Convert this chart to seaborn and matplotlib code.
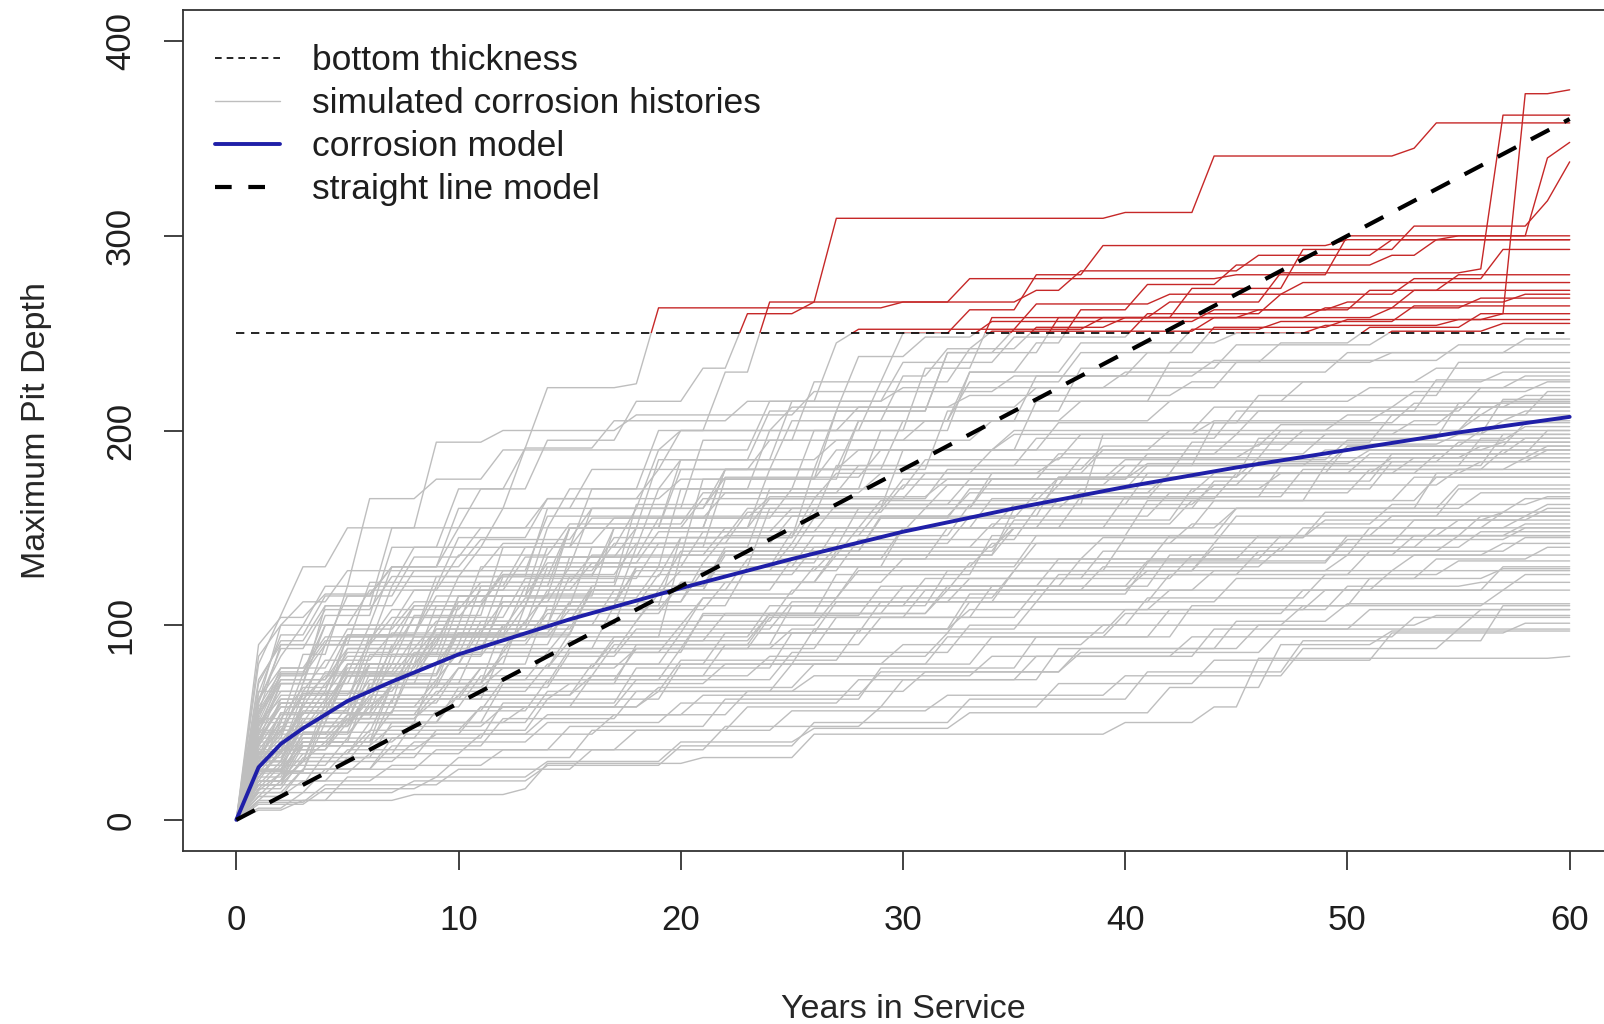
import matplotlib
matplotlib.use("Agg")
import matplotlib.pyplot as plt
from matplotlib.lines import Line2D
from matplotlib.patches import Rectangle
import pandas as pd
import seaborn as sns

# corrosion model curve (years, depth)
MODEL_YEARS = [0, 1, 2, 3, 4, 5, 7, 10, 15, 20, 25, 30, 35, 40, 45, 50, 55, 60]
MODEL_DEPTH = [0, 27, 39, 47, 54, 61, 71, 85, 103, 119, 134, 148, 160, 171, 181, 190, 199, 207]

# straight line model
STRAIGHT_YEARS = [0, 60]
STRAIGHT_DEPTH = [0, 360]

# bottom thickness
BOTTOM_YEARS = [0, 60]
BOTTOM_THICKNESS = 250

# simulated histories as (year, depth reached) jumps
HIGH_HISTORIES = [
    [(1, 60), (2, 100), (4, 120), (6, 165), (9, 175), (12, 190), (20, 200), (28, 212), (36, 222), (45, 235), (52, 240), (58, 247)],
    [(1, 80), (2, 105), (3, 130), (5, 150), (9, 194), (12, 200), (18, 208), (26, 220), (35, 228), (44, 236), (55, 244)],
    [(1, 45), (2, 70), (4, 110), (7, 150), (11, 170), (13, 191), (17, 205), (23, 215), (30, 222), (40, 230), (50, 240)],
    [(1, 50), (3, 85), (5, 120), (8, 140), (12, 160), (16, 180), (20, 200), (25, 212), (33, 218), (43, 225), (54, 232)],
    [(1, 40), (2, 60), (4, 90), (7, 120), (10, 145), (14, 165), (19, 180), (24, 195), (31, 205), (38, 215), (48, 225), (57, 230)],
    [(1, 55), (2, 90), (5, 115), (8, 135), (11, 150), (15, 170), (20, 185), (27, 195), (34, 205), (42, 215), (51, 222), (58, 228)],
    [(1, 35), (3, 60), (6, 95), (9, 120), (13, 140), (18, 160), (22, 180), (28, 190), (35, 200), (44, 212), (53, 220), (59, 225)],
    [(1, 30), (2, 55), (5, 80), (9, 110), (14, 135), (19, 155), (25, 170), (31, 185), (38, 198), (46, 210), (56, 222)],
    [(1, 65), (2, 95), (4, 115), (7, 130), (10, 150), (14, 165), (20, 175), (27, 190), (35, 198), (44, 205), (52, 212), (58, 218)],
    [(1, 45), (3, 75), (6, 100), (10, 125), (15, 150), (21, 165), (27, 178), (34, 190), (42, 200), (50, 208), (57, 215)],
    [(1, 28), (3, 50), (6, 75), (10, 100), (15, 125), (20, 145), (26, 165), (32, 180), (39, 192), (47, 203), (55, 212)],
    [(1, 38), (2, 62), (5, 88), (8, 110), (12, 128), (17, 145), (23, 160), (30, 175), (37, 188), (45, 198), (53, 205), (58, 210)],
    [(1, 50), (2, 75), (4, 100), (8, 118), (13, 135), (18, 150), (24, 165), (31, 178), (39, 190), (48, 200), (56, 208)],
    [(1, 22), (3, 45), (7, 70), (11, 95), (16, 120), (22, 140), (28, 160), (34, 175), (41, 188), (49, 198), (57, 205)],
    [(1, 42), (3, 70), (6, 92), (10, 112), (15, 130), (21, 148), (27, 162), (33, 175), (40, 185), (50, 195), (58, 202)],
    [(1, 33), (2, 55), (5, 78), (9, 98), (14, 118), (20, 138), (26, 155), (33, 170), (41, 182), (50, 192), (56, 200)],
    [(1, 60), (2, 88), (4, 108), (7, 125), (11, 140), (16, 155), (22, 168), (29, 178), (37, 186), (46, 193), (55, 198)],
    [(1, 26), (3, 48), (6, 68), (10, 90), (15, 112), (21, 132), (27, 150), (34, 165), (42, 178), (51, 188), (58, 196)],
    [(1, 48), (2, 72), (5, 95), (9, 115), (14, 132), (19, 148), (25, 160), (32, 172), (40, 182), (49, 190), (57, 194)],
    [(1, 36), (3, 58), (6, 80), (11, 102), (16, 120), (22, 138), (29, 155), (36, 168), (44, 178), (53, 186), (59, 192)],
    [(1, 70), (2, 92), (4, 110), (8, 128), (12, 142), (17, 155), (24, 166), (32, 175), (41, 183), (51, 190)],
    [(1, 18), (3, 38), (7, 62), (12, 88), (17, 110), (23, 130), (30, 150), (37, 165), (45, 178), (54, 188)],
    [(1, 52), (2, 78), (5, 98), (8, 112), (12, 126), (18, 142), (25, 156), (33, 168), (42, 178), (52, 186)],
    [(1, 44), (3, 66), (7, 88), (12, 110), (18, 130), (25, 148), (31, 160), (38, 170), (47, 178), (56, 184)],
    [(1, 30), (2, 52), (5, 74), (10, 96), (16, 118), (22, 136), (28, 150), (35, 162), (44, 172), (55, 180)],
]

MID_HISTORIES = [
    [(1, 40), (2, 58), (4, 76), (8, 94), (13, 110), (19, 126), (26, 140), (34, 152), (43, 164), (53, 176)],
    [(1, 24), (3, 42), (6, 60), (10, 78), (15, 96), (21, 114), (28, 130), (36, 146), (45, 160), (55, 172)],
    [(1, 55), (2, 72), (5, 88), (9, 102), (14, 116), (20, 128), (27, 140), (35, 150), (45, 160), (56, 168)],
    [(1, 16), (3, 32), (7, 50), (12, 70), (18, 90), (25, 110), (32, 128), (40, 145), (49, 158), (58, 165)],
    [(1, 34), (3, 52), (7, 70), (12, 86), (18, 102), (25, 118), (33, 132), (42, 146), (52, 156), (59, 162)],
    [(1, 46), (2, 64), (5, 80), (9, 94), (15, 108), (22, 122), (30, 134), (39, 145), (49, 154), (57, 158)],
    [(1, 20), (2, 36), (5, 54), (9, 70), (15, 88), (21, 105), (29, 120), (37, 134), (46, 146), (55, 154)],
    [(1, 28), (3, 44), (6, 58), (11, 74), (17, 90), (24, 106), (32, 120), (41, 133), (50, 144), (58, 150)],
    [(1, 38), (3, 55), (7, 70), (12, 84), (18, 98), (25, 112), (33, 124), (43, 136), (53, 146)],
    [(1, 12), (3, 26), (7, 42), (12, 60), (18, 78), (25, 96), (33, 112), (42, 126), (51, 138), (58, 145)],
    [(1, 32), (2, 48), (6, 64), (11, 78), (17, 92), (24, 106), (32, 118), (41, 128), (50, 136), (57, 142)],
    [(1, 18), (4, 34), (8, 50), (14, 66), (20, 82), (28, 98), (36, 112), (45, 124), (54, 134), (59, 140)],
]

LOW_HISTORIES = [
    [(1, 5), (3, 10), (8, 13), (13, 16), (14, 29), (21, 32), (26, 44), (40, 50), (44, 58), (46, 83), (60, 84)],
    [(1, 8), (4, 16), (9, 22), (14, 30), (20, 40), (26, 47), (33, 55), (42, 68), (47, 90), (52, 97)],
    [(1, 12), (3, 20), (7, 28), (12, 36), (18, 46), (25, 56), (32, 64), (40, 74), (48, 88), (55, 98)],
    [(1, 15), (2, 24), (6, 34), (11, 44), (17, 54), (23, 66), (31, 76), (38, 88), (46, 100), (54, 105)],
    [(1, 20), (3, 30), (8, 40), (14, 50), (20, 60), (28, 72), (36, 84), (44, 98), (51, 108)],
    [(1, 10), (5, 22), (10, 32), (16, 46), (23, 58), (30, 72), (37, 88), (45, 102), (50, 111)],
    [(1, 25), (3, 38), (7, 48), (12, 58), (19, 68), (26, 80), (34, 94), (42, 108), (50, 120), (56, 122)],
    [(1, 14), (4, 26), (9, 36), (15, 48), (22, 62), (29, 78), (36, 94), (43, 110), (51, 124), (57, 129)],
    [(1, 22), (2, 34), (6, 46), (11, 58), (18, 72), (25, 86), (33, 100), (41, 114), (49, 126), (55, 133)],
    [(1, 6), (3, 14), (8, 20), (14, 28), (20, 38), (26, 50), (33, 62), (41, 76), (48, 92), (57, 110)],
    [(1, 30), (2, 42), (5, 54), (10, 64), (16, 74), (24, 84), (32, 96), (40, 108), (49, 118), (58, 126)],
    [(1, 9), (4, 18), (10, 26), (16, 36), (22, 48), (29, 58), (37, 70), (44, 82), (52, 96), (58, 101)],
    [(1, 18), (2, 30), (4, 40), (8, 50), (13, 58), (19, 66), (26, 74), (34, 84), (43, 94), (53, 104)],
    [(1, 26), (2, 40), (5, 52), (9, 62), (15, 70), (22, 80), (30, 90), (39, 100), (48, 110), (57, 118)],
    [(1, 12), (2, 24), (5, 36), (9, 44), (14, 54), (21, 64), (29, 76), (38, 86), (47, 98), (56, 108)],
    [(1, 34), (2, 46), (4, 58), (7, 68), (12, 78), (18, 88), (25, 98), (33, 108), (42, 118), (52, 128)],
]

EXTRA_HISTORIES = [
    [(1, 62), (2, 84), (3, 100), (6, 118), (10, 136), (15, 152), (21, 168), (28, 182), (36, 196), (45, 210), (54, 226)],
    [(1, 28), (2, 46), (4, 62), (7, 80), (11, 98), (16, 118), (22, 138), (29, 156), (37, 176), (46, 196), (55, 214)],
    [(1, 52), (3, 68), (5, 86), (8, 104), (13, 124), (19, 142), (26, 160), (34, 178), (43, 194), (52, 208), (59, 220)],
    [(1, 36), (2, 50), (4, 66), (8, 84), (12, 100), (17, 118), (23, 134), (30, 150), (38, 166), (47, 182), (56, 196)],
    [(1, 84), (2, 100), (3, 112), (5, 128), (14, 156), (27, 182), (44, 204), (53, 214)],
    [(1, 20), (3, 34), (6, 50), (10, 68), (15, 86), (21, 106), (27, 126), (34, 146), (41, 164), (49, 182), (57, 198)],
    [(1, 44), (2, 60), (5, 76), (9, 92), (14, 108), (20, 122), (27, 136), (35, 150), (44, 164), (54, 176)],
    [(1, 58), (2, 76), (4, 92), (7, 108), (11, 122), (16, 136), (22, 150), (29, 164), (37, 176), (46, 186), (56, 192)],
    [(1, 24), (2, 38), (5, 52), (9, 66), (14, 80), (20, 96), (27, 112), (35, 128), (44, 142), (53, 154), (59, 160)],
    [(1, 40), (3, 56), (6, 72), (10, 86), (15, 100), (21, 114), (28, 128), (36, 142), (45, 156), (55, 170)],
    [(1, 16), (2, 28), (5, 42), (9, 56), (14, 72), (20, 88), (27, 104), (34, 120), (42, 136), (51, 150), (58, 156)],
    [(1, 48), (2, 66), (4, 82), (7, 96), (12, 112), (18, 128), (25, 142), (33, 156), (42, 168), (51, 180), (58, 186)],
    [(1, 72), (2, 90), (6, 122), (18, 162), (39, 198), (57, 216)],
    [(1, 32), (3, 48), (6, 62), (11, 78), (17, 94), (24, 110), (31, 124), (39, 138), (48, 150), (57, 158)],
    [(1, 10), (2, 20), (5, 32), (9, 46), (14, 62), (20, 80), (26, 98), (33, 116), (41, 132), (50, 146), (58, 152)],
    [(1, 54), (2, 70), (5, 84), (9, 98), (13, 114), (19, 130), (26, 146), (33, 162), (41, 178), (50, 192), (58, 204)],
    [(1, 26), (3, 40), (7, 56), (12, 72), (18, 88), (24, 104), (31, 118), (39, 130), (47, 140), (56, 148)],
    [(1, 38), (2, 54), (4, 70), (8, 86), (13, 102), (19, 118), (25, 134), (32, 150), (40, 166), (48, 180), (57, 190)],
    [(1, 66), (5, 94), (20, 136), (35, 160), (54, 178)],
    [(1, 14), (3, 26), (7, 38), (12, 52), (18, 66), (25, 80), (32, 94), (40, 106), (48, 118), (57, 130)],
    [(1, 46), (3, 64), (6, 80), (10, 96), (15, 112), (21, 128), (28, 144), (36, 160), (44, 174), (52, 188), (59, 200)],
    [(1, 30), (2, 44), (5, 58), (9, 72), (14, 86), (20, 100), (27, 114), (35, 128), (44, 140), (54, 150)],
    [(1, 90), (2, 104), (4, 116), (7, 130), (11, 144), (16, 160), (22, 176), (29, 190), (37, 204), (46, 218), (55, 235)],
    [(1, 50), (2, 62), (4, 74), (8, 88), (13, 102), (19, 116), (26, 130), (34, 142), (43, 152), (52, 162), (59, 166)],
    [(1, 22), (2, 36), (5, 50), (10, 64), (16, 80), (22, 96), (29, 112), (37, 126), (46, 138), (55, 146)],
    [(1, 42), (2, 58), (5, 74), (9, 90), (14, 106), (20, 122), (27, 138), (35, 154), (43, 170), (52, 184), (59, 190)],
    [(1, 34), (3, 50), (6, 64), (10, 78), (15, 92), (22, 106), (30, 120), (38, 134), (47, 146), (56, 156)],
    [(1, 62), (2, 78), (4, 94), (8, 110), (12, 126), (17, 142), (23, 158), (30, 172), (38, 186), (47, 200), (56, 212)],
    [(1, 18), (3, 30), (6, 44), (11, 58), (16, 74), (22, 90), (29, 104), (36, 118), (44, 128), (53, 136)],
    [(1, 56), (2, 74), (4, 90), (7, 104), (11, 118), (16, 132), (22, 146), (29, 160), (37, 172), (46, 184), (55, 194)],
]

# histories that go through the bottom
FAILED_HISTORIES = [
    [(1, 30), (3, 50), (5, 80), (8, 105), (12, 140), (16, 170), (19, 200), (22, 230), (24, 266), (27, 309), (40, 312), (44, 341), (53, 345), (54, 358)],
    [(1, 40), (2, 70), (4, 100), (7, 130), (10, 160), (13, 191), (14, 222), (18, 224), (19, 263), (30, 266), (33, 278), (45, 280), (50, 300), (59, 340), (60, 348)],
    [(1, 20), (3, 45), (6, 70), (9, 95), (13, 120), (18, 150), (24, 180), (30, 205), (36, 228), (41, 240), (44, 253), (50, 257), (57, 260), (58, 373), (60, 375)],
    [(1, 25), (2, 50), (5, 75), (9, 100), (14, 130), (20, 170), (26, 200), (31, 232), (34, 258), (42, 266), (47, 281), (56, 283), (57, 362)],
    [(1, 30), (4, 60), (8, 95), (12, 125), (17, 150), (22, 180), (27, 210), (32, 240), (37, 258), (43, 273), (48, 293), (53, 305), (59, 318), (60, 338)],
    [(1, 35), (3, 65), (7, 100), (11, 130), (16, 160), (21, 195), (26, 225), (30, 250), (33, 262), (36, 280), (39, 295), (50, 298), (55, 300)],
    [(1, 25), (4, 55), (8, 80), (13, 110), (18, 140), (24, 170), (29, 200), (33, 230), (36, 245), (38, 262), (41, 275), (45, 285), (52, 290), (54, 298)],
    [(1, 30), (3, 60), (7, 90), (11, 120), (15, 150), (20, 185), (25, 215), (30, 235), (35, 248), (41, 260), (47, 270), (53, 278), (57, 293)],
    [(1, 20), (3, 40), (6, 70), (10, 100), (15, 135), (21, 175), (27, 210), (32, 240), (35, 252), (39, 258), (46, 262), (51, 272), (55, 280)],
    [(1, 40), (2, 60), (5, 95), (9, 125), (14, 160), (19, 190), (24, 215), (27, 245), (28, 252), (36, 265), (42, 270), (48, 276)],
    [(1, 25), (3, 50), (6, 80), (10, 110), (14, 140), (19, 170), (24, 200), (29, 225), (33, 242), (36, 253), (40, 258), (49, 263), (53, 272)],
    [(1, 35), (3, 60), (6, 90), (10, 115), (15, 150), (20, 180), (25, 205), (30, 228), (32, 242), (34, 251), (44, 258), (52, 263), (56, 268)],
    [(1, 30), (4, 55), (8, 85), (12, 115), (17, 150), (22, 180), (28, 205), (33, 225), (38, 240), (43, 252), (47, 256), (53, 264)],
    [(1, 20), (3, 40), (7, 70), (12, 100), (18, 130), (24, 160), (30, 190), (36, 215), (42, 235), (47, 245), (51, 253), (56, 260)],
    [(1, 30), (3, 55), (7, 85), (11, 110), (16, 140), (22, 175), (28, 205), (33, 230), (38, 245), (45, 250), (49, 254), (55, 257)],
    [(1, 25), (4, 50), (9, 80), (14, 110), (20, 145), (26, 180), (32, 210), (38, 232), (45, 244), (52, 251), (57, 255)],
    [(1, 45), (2, 75), (4, 105), (7, 140), (10, 170), (14, 195), (18, 215), (21, 232), (23, 260), (26, 266), (36, 272), (38, 282), (46, 290), (52, 298)],
    [(1, 30), (3, 55), (6, 85), (10, 115), (14, 150), (19, 185), (24, 210), (28, 238), (31, 248), (34, 256), (44, 262), (50, 266), (58, 270)],
]


def history_knots(steps, end_year=60):
    # each jump ramps over one year, level is held otherwise
    xs, ys = [0.0], [0.0]
    for t, v in steps:
        if t - 1 > xs[-1]:
            xs.append(t - 1)
            ys.append(ys[-1])
        xs.append(t)
        ys.append(v)
    if xs[-1] < end_year:
        xs.append(end_year)
        ys.append(ys[-1])
    return xs, ys


rows = []
all_histories = HIGH_HISTORIES + MID_HISTORIES + LOW_HISTORIES + EXTRA_HISTORIES + FAILED_HISTORIES
for run, steps in enumerate(all_histories):
    xs, ys = history_knots(steps)
    for x, y in zip(xs, ys):
        rows.append({"run": run, "year": x, "depth": y})
hist = pd.DataFrame(rows)
failed_runs = hist.groupby("run")["depth"].max()
failed_runs = failed_runs[failed_runs > BOTTOM_THICKNESS].index

sns.set_style("white")
plt.rcParams["font.family"] = ["Liberation Sans", "DejaVu Sans"]
plt.rcParams["text.color"] = "#1e1e1e"

fig = plt.figure(figsize=(16.04, 10.24), dpi=100)
ax = fig.add_axes([183 / 1604, 1 - 851 / 1024, 1440 / 1604, 841 / 1024])

GRAY = "#bebebe"
RED = "#c62828"
BLUE = "#1f1fa8"

n0 = len(ax.lines)
sns.lineplot(data=hist, x="year", y="depth", units="run", estimator=None,
             color=GRAY, lw=1.0, sort=False, ax=ax)
below = Rectangle((-10, -50), 100, 50 + BOTTOM_THICKNESS, transform=ax.transData)
for ln in ax.lines[n0:]:
    ln.set_clip_path(below)

n1 = len(ax.lines)
sns.lineplot(data=hist[hist["run"].isin(failed_runs)], x="year", y="depth",
             units="run", estimator=None, color=RED, lw=1.0, sort=False, ax=ax)
above = Rectangle((-10, BOTTOM_THICKNESS), 100, 500, transform=ax.transData)
for ln in ax.lines[n1:]:
    ln.set_clip_path(above)

sns.lineplot(x=BOTTOM_YEARS, y=[BOTTOM_THICKNESS] * len(BOTTOM_YEARS), color="black",
             lw=1.2, ax=ax)
ax.lines[-1].set_dashes((5, 4))
sns.lineplot(x=MODEL_YEARS, y=MODEL_DEPTH, color=BLUE, lw=2.8, ax=ax)
sns.lineplot(x=STRAIGHT_YEARS, y=STRAIGHT_DEPTH, color="black", lw=3.0, ax=ax)
ax.lines[-1].set_dashes((5, 4))

ax.set_xlim(-2.4, 62.4)
ax.set_ylim(-16, 416)
ax.set_xticks([0, 10, 20, 30, 40, 50, 60])
ax.set_yticks([0, 100, 200, 300, 400])
for sp in ax.spines.values():
    sp.set_color("#333333")
    sp.set_linewidth(1.3)
ax.tick_params(axis="both", direction="out", length=14, width=1.3, color="#333333",
               labelsize=25, labelcolor="#1e1e1e", bottom=True, left=True)
ax.tick_params(axis="x", pad=24)
ax.tick_params(axis="y", pad=19)
for lbl in ax.get_yticklabels():
    lbl.set_rotation(90)
    lbl.set_va("center")

ax.set_xlabel("Years in Service", fontsize=24.5, va="center")
ax.set_ylabel("Maximum Pit Depth", fontsize=24.5, va="center")
ax.xaxis.set_label_coords(0.5, -0.188)
ax.yaxis.set_label_coords(-0.102, 0.5)

handles = [
    Line2D([], [], color="black", lw=1.2, dashes=(4, 3)),
    Line2D([], [], color=GRAY, lw=1.0),
    Line2D([], [], color=BLUE, lw=2.8),
    Line2D([], [], color="black", lw=3.0, dashes=(4, 4)),
]
labels = ["bottom thickness", "simulated corrosion histories", "corrosion model", "straight line model"]
ax.legend(handles, labels, loc="upper left", bbox_to_anchor=(0.022, 0.959),
          frameon=False, fontsize=25.5, handlelength=1.85, handletextpad=0.9,
          labelspacing=0.28, borderpad=0, borderaxespad=0)

fig.savefig("out.png", dpi=100)
plt.close(fig)
